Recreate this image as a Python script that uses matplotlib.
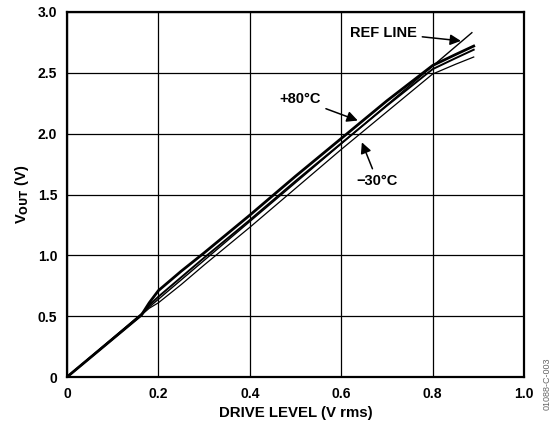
import matplotlib
matplotlib.use("Agg")
import matplotlib.pyplot as plt

plt.rcParams['font.family'] = ['Liberation Sans', 'DejaVu Sans']
plt.rcParams['font.weight'] = 'bold'

# Data
drive = [0, 0.163, 0.18, 0.2, 0.25, 0.3, 0.4, 0.5, 0.6, 0.7, 0.8, 0.85, 0.89]
vout_p80 = [0, 0.51, 0.61, 0.71, 0.87, 1.02, 1.33, 1.65, 1.96, 2.27, 2.56, 2.65, 2.72]
vout_p25 = [0, 0.51, 0.59, 0.66, 0.82, 0.98, 1.29, 1.61, 1.92, 2.23, 2.53, 2.62, 2.69]
vout_m30 = [0, 0.51, 0.565, 0.61, 0.76, 0.92, 1.23, 1.55, 1.87, 2.18, 2.49, 2.57, 2.63]
ref_x = [0, 0.886]
ref_y = [0, 2.83]

x_ticks = [0, 0.2, 0.4, 0.6, 0.8, 1.0]
x_labels = ['0', '0.2', '0.4', '0.6', '0.8', '1.0']
y_ticks = [0, 0.5, 1.0, 1.5, 2.0, 2.5, 3.0]
y_labels = ['0', '0.5', '1.0', '1.5', '2.0', '2.5', '3.0']

fig = plt.figure(figsize=(5.55, 4.21), dpi=100)
ax = fig.add_axes([0.1207, 0.1045, 0.8234, 0.867])

ax.plot(ref_x, ref_y, color='black', lw=1.0)
ax.plot(drive, vout_p80, color='black', lw=2.0)
ax.plot(drive, vout_p25, color='black', lw=1.4)
ax.plot(drive, vout_m30, color='black', lw=0.9)

ax.set_xlim(0, 1.0)
ax.set_ylim(0, 3.0)
ax.set_xticks(x_ticks)
ax.set_xticklabels(x_labels)
ax.set_yticks(y_ticks)
ax.set_yticklabels(y_labels)
ax.tick_params(length=0, labelsize=10, pad=7)
for lab in ax.get_xticklabels() + ax.get_yticklabels():
    lab.set_fontweight('bold')
ax.grid(True, color='black', lw=0.9)
for s in ax.spines.values():
    s.set_linewidth(1.6)

ax.set_xlabel('DRIVE LEVEL (V rms)', fontsize=10.8, fontweight='bold', labelpad=4)
ax.set_ylabel(r'V$_{\mathbf{OUT}}$ (V)', fontsize=10.5, fontweight='bold', labelpad=5)

arrow = dict(arrowstyle='-|>', color='black', lw=1.1, mutation_scale=16)
ax.annotate('REF LINE', xy=(0.868, 2.76), xytext=(0.619, 2.83),
            fontsize=10.5, fontweight='bold', va='center', ha='left',
            arrowprops=arrow)
ax.annotate('+80°C', xy=(0.642, 2.10), xytext=(0.464, 2.285),
            fontsize=10.5, fontweight='bold', va='center', ha='left',
            arrowprops=arrow)
ax.annotate('−30°C', xy=(0.643, 1.95), xytext=(0.634, 1.61),
            fontsize=10.5, fontweight='bold', va='center', ha='left',
            arrowprops=arrow)

fig.text(0.986, 0.088, '01088-C-003', rotation=90, fontsize=6.5,
         color='#666666', ha='center', va='center', fontweight='normal')

fig.savefig('out.png', dpi=100)
